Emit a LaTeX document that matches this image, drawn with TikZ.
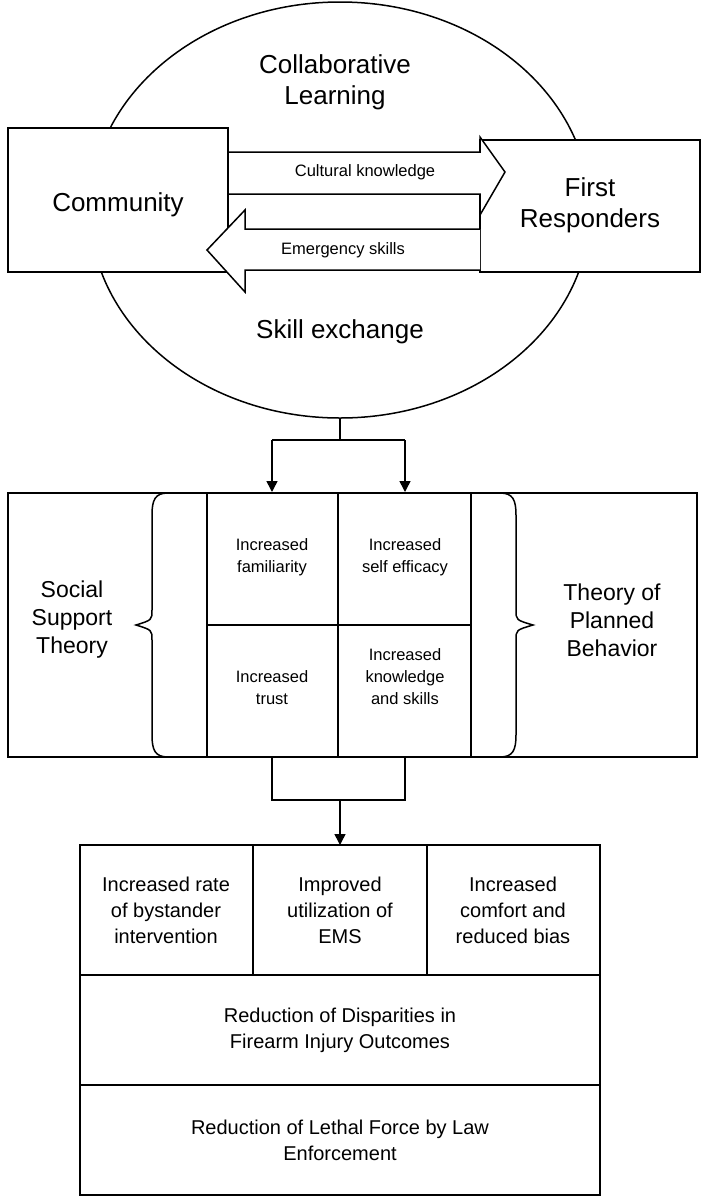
\documentclass[tikz,border=0pt]{standalone}
\usepackage{fontspec}
\setmainfont{Liberation Sans}
\usetikzlibrary{arrows.meta}
\begin{document}
\begin{tikzpicture}[x=1pt,y=-1pt,line width=1.5pt,
  big/.style={font=\fontsize{26}{31}\selectfont,align=center},
  mid/.style={font=\fontsize{23}{28}\selectfont,align=center},
  sml/.style={font=\fontsize{16.5}{22}\selectfont,align=center},
  bot/.style={font=\fontsize{20}{26}\selectfont,align=center},
  arr/.style={-{Triangle[length=11pt,width=11pt]}}]
\useasboundingbox (0,0) rectangle (706,1200);
% ellipse
\draw (340,210) ellipse [x radius=250, y radius=208];
\node[big] (cl) at (335,82) {Collaborative\\Learning};
\node[big] (se) at (340,332) {Skill exchange};
% boxes
\draw[fill=white] (8,128) rectangle (228,272);
\node[big] (comm) at (118,205) {Community};
\draw[fill=white] (480,140) rectangle (700,272);
\node[big] (fr) at (590,205) {First\\Responders};
% big arrows
\draw[fill=white] (228,152) -- (480,152) -- (480,137) -- (505,172) -- (480,215) -- (480,194) -- (228,194) -- cycle;
\node[sml] (ck) at (365,172) {Cultural knowledge};
\draw[fill=white] (480,229) -- (245,229) -- (245,210) -- (207,250) -- (245,292) -- (245,270) -- (480,270);
\node[sml] (es) at (343,250) {Emergency skills};
% connector 1
\coordinate (eb) at (340,418);
\coordinate (j1) at (340,440);
\coordinate (l1) at (272,440);
\coordinate (r1) at (405,440);
\draw (eb) -- (j1) (l1) -- (r1);
\draw[arr] (l1) -- (272,492);
\draw[arr] (r1) -- (405,492);
% middle box
\draw (8,493) rectangle (697,757);
\draw (207,493) -- (207,757) (338,493) -- (338,757) (471,493) -- (471,757) (207,625) -- (471,625);
\draw (168,493) .. controls (155,493) and (152,500) .. (152,515) -- (152,610) .. controls (152,620) .. (136,625) .. controls (152,630) .. (152,640) -- (152,735) .. controls (152,750) and (155,757) .. (168,757);
\draw (500,493) .. controls (513,493) and (516,500) .. (516,515) -- (516,610) .. controls (516,620) .. (533,625) .. controls (516,630) .. (516,640) -- (516,735) .. controls (516,750) and (513,757) .. (500,757);
\node[mid] (sst) at (72,620) {Social\\Support\\Theory};
\node[mid] (tpb) at (612,620) {Theory of\\Planned\\Behavior};
\node[sml] (g1) at (272,557) {Increased\\familiarity};
\node[sml] (g2) at (405,557) {Increased\\self efficacy};
\node[sml] (g3) at (272,688) {Increased\\trust};
\node[sml] (g4) at (405,677) {Increased\\knowledge\\and skills};
% connector 2
\coordinate (l2) at (272,800);
\coordinate (r2) at (405,800);
\coordinate (j2) at (340,800);
\draw (272,757) -- (l2) -- (r2) -- (405,757);
\draw[arr] (j2) -- (340,845);
% bottom box
\draw (80,845) rectangle (600,1195);
\draw (80,975) -- (600,975) (80,1085) -- (600,1085) (253,845) -- (253,975) (427,845) -- (427,975);
\node[bot] (b1) at (166,910) {Increased rate\\of bystander\\intervention};
\node[bot] (b2) at (340,910) {Improved\\utilization of\\EMS};
\node[bot] (b3) at (513,910) {Increased\\comfort and\\reduced bias};
\node[bot] (b4) at (340,1030) {Reduction of Disparities in\\Firearm Injury Outcomes};
\node[bot] (b5) at (340,1140) {Reduction of Lethal Force by Law\\Enforcement};
\end{tikzpicture}
\end{document}
